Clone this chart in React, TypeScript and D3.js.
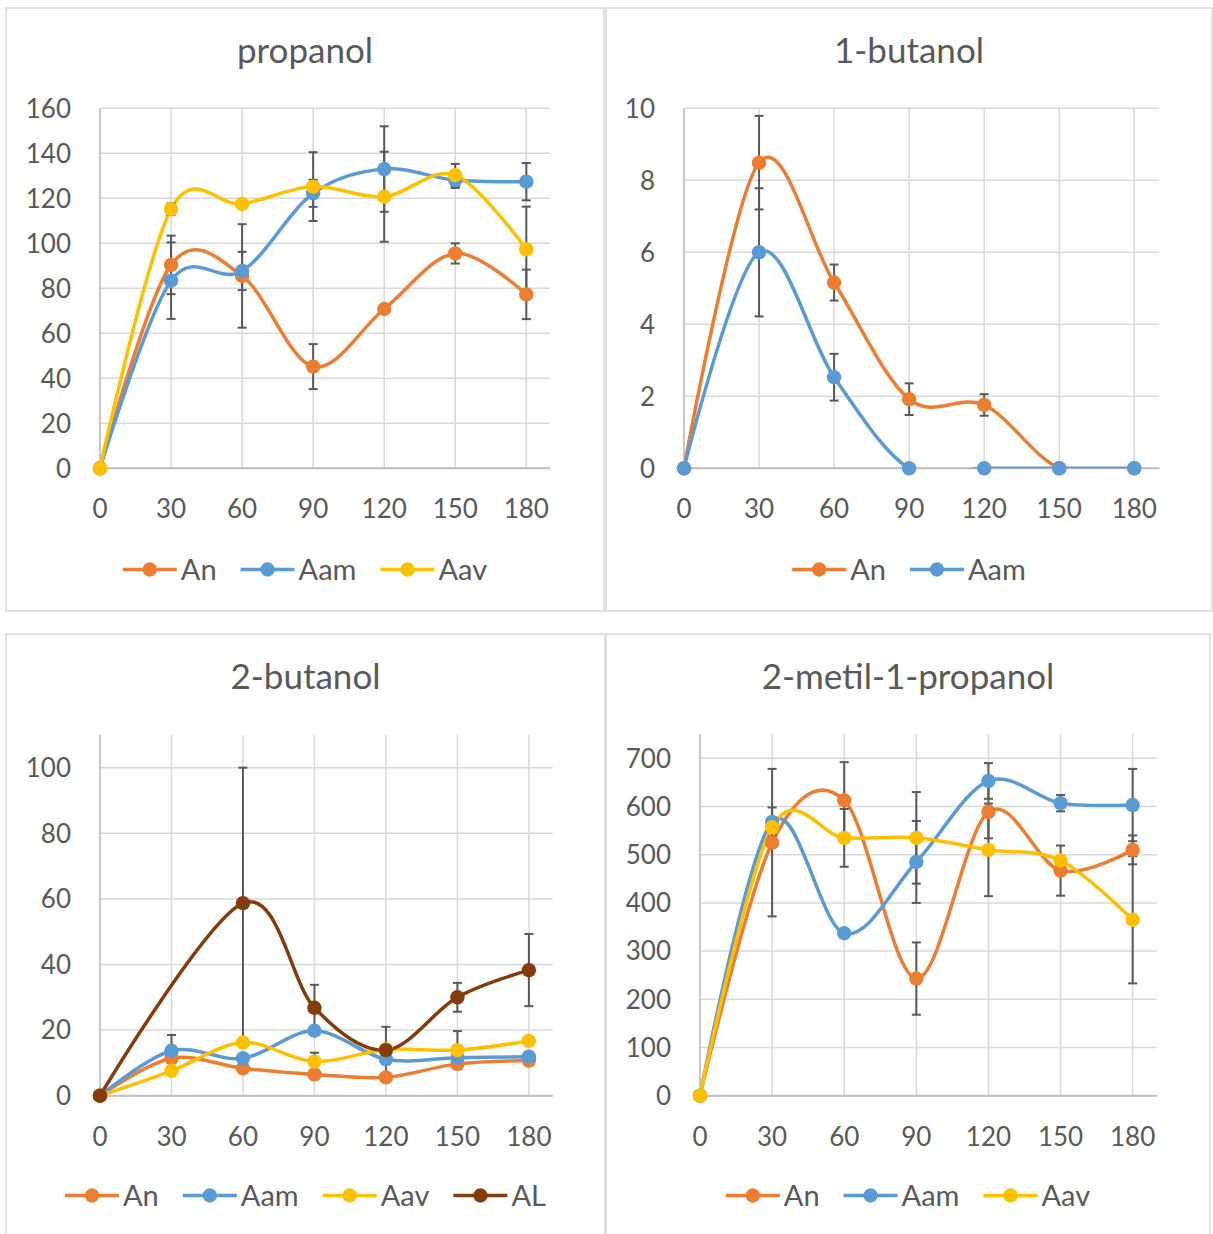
import React from "react";
import * as d3 from "d3";

const TIMES = [0, 30, 60, 90, 120, 150, 180];

// propanol
const propAn = [0, 90.4, 85.5, 45.2, 70.8, 95.5, 77.3];
const propAnErr = [0, 13, 23, 10, 0, 4.5, 11];
const propAam = [0, 83.4, 87.7, 122.2, 133, 128.1, 127.4];
const propAamErr = [0, 17, 8.5, 6, 19, 3.5, 8.3];
const propAav = [0, 115.2, 117.5, 125.2, 120.7, 130.3, 97.3];
const propAavErr = [0, 2.5, 0, 15.3, 20, 5, 19];

// 1-butanol
const butAn = [0, 8.49, 5.16, 1.92, 1.76, 0, 0];
const butAnErr = [0, 1.3, 0.5, 0.44, 0.3, 0, 0];
const butAam = [0, 6.0, 2.53, 0, 0, 0, 0];
const butAamErr = [0, 1.78, 0.65, 0, 0, 0, 0];

// 2-butanol
const b2An = [0, 11.4, 8.35, 6.5, 5.6, 9.7, 10.7];
const b2AnErr = [0, 0, 0, 0, 0, 0, 0];
const b2Aam = [0, 13.7, 11.4, 19.8, 11.1, 11.6, 11.9];
const b2AamErr = [0, 4.8, 0, 0, 0, 0, 0];
const b2Aav = [0, 7.6, 16.2, 10.4, 14.1, 13.9, 16.7];
const b2AavErr = [0, 1.4, 0, 2.7, 0, 5.8, 0];
const b2AL: (number | null)[] = [0, null, 58.7, 26.8, 13.9, 30.0, 38.3];
const b2ALErr = [0, 0, 41.3, 7, 7.1, 4.4, 11];

// 2-metil-1-propanol
const mAn = [0, 525, 613, 243, 589, 467, 510];
const mAnErr = [0, 153, 79, 75, 55, 52, 30];
const mAam = [0, 568, 337, 485, 653, 607, 603];
const mAamErr = [0, 30, 0, 85, 37, 17, 75];
const mAav = [0, 557, 535, 535, 510, 488, 365];
const mAavErr = [0, 0, 60, 95, 96, 0, 132];

const propTicks = [0, 20, 40, 60, 80, 100, 120, 140, 160];
const butTicks = [0, 2, 4, 6, 8, 10];
const b2Ticks = [0, 20, 40, 60, 80, 100];
const mTicks = [0, 100, 200, 300, 400, 500, 600, 700];

const COLORS: Record<string, string> = {
  An: "#ED7D31",
  Aam: "#5B9BD5",
  Aav: "#FFC000",
  AL: "#843C0C",
};

const FONT = "Lato, 'Open Sans', sans-serif";
const TEXT = "#595959";
const TICK_FS = 26;
const LEG_FS = 29;
const TITLE_FS = 35;

type Series = { name: string; values: (number | null)[]; err: number[] };

type PanelProps = {
  id: string;
  box: [number, number, number, number];
  title: string;
  titleY: number;
  plot: { left: number; right: number; top: number; bottom: number };
  yMax: number;
  yTicks: number[];
  series: Series[];
  legendY: number;
};

function measure(text: string, size: number) {
  if (typeof document === "undefined") return text.length * size * 0.55;
  const c = document.createElement("canvas");
  const ctx = c.getContext("2d")!;
  ctx.font = `${size}px Lato`;
  return ctx.measureText(text).width;
}

function Panel(p: PanelProps) {
  const [bx, by, bw, bh] = p.box;
  const x = d3.scaleLinear().domain([0, 190]).range([p.plot.left, p.plot.right]);
  const y = d3.scaleLinear().domain([0, p.yMax]).range([p.plot.bottom, p.plot.top]);
  const line = d3
    .line<{ t: number; v: number }>()
    .x((d) => x(d.t))
    .y((d) => y(d.v))
    .curve(d3.curveCardinal.tension(0));
  const cx = bx + bw / 2;

  // legend layout
  const seg = 54;
  const items = p.series.map((s) => ({ name: s.name, w: seg + 4 + measure(s.name, LEG_FS) }));
  const gap = 24;
  const total = d3.sum(items, (d) => d.w) + gap * (items.length - 1);
  let acc = cx - total / 2;
  const legend = items.map((it) => {
    const o = { ...it, x0: acc };
    acc += it.w + gap;
    return o;
  });

  return (
    <g>
      <rect x={bx} y={by} width={bw} height={bh} fill="#fff" stroke="#d9d9d9" strokeWidth={1.5} />
      <text x={cx} y={p.titleY} textAnchor="middle" fontSize={TITLE_FS} fontFamily={FONT} fill={TEXT}>
        {p.title}
      </text>
      <clipPath id={`clip-${p.id}`}>
        <rect x={p.plot.left} y={p.plot.top - 10} width={p.plot.right - p.plot.left} height={p.plot.bottom - p.plot.top + 10} />
      </clipPath>
      {/* horizontal gridlines */}
      {p.yTicks.map((t) => (
        <line key={"h" + t} x1={p.plot.left} x2={p.plot.right} y1={y(t)} y2={y(t)} stroke="#d9d9d9" strokeWidth={1.5} />
      ))}
      {/* vertical gridlines */}
      {TIMES.map((t) => (
        <line key={"v" + t} x1={x(t)} x2={x(t)} y1={p.plot.top} y2={p.plot.bottom} stroke="#d9d9d9" strokeWidth={1.5} />
      ))}
      <line x1={p.plot.left} x2={p.plot.left} y1={p.plot.top} y2={p.plot.bottom} stroke="#bfbfbf" strokeWidth={1.5} />
      <line x1={p.plot.left} x2={p.plot.right} y1={p.plot.bottom} y2={p.plot.bottom} stroke="#bfbfbf" strokeWidth={2} />
      {/* tick labels */}
      {p.yTicks.map((t) => (
        <text key={"yl" + t} x={p.plot.left - 29} y={y(t) + 9.3} textAnchor="end" fontSize={TICK_FS} fontFamily={FONT} fill={TEXT}>
          {t}
        </text>
      ))}
      {TIMES.map((t) => (
        <text key={"xl" + t} x={x(t)} y={p.plot.bottom + 50} textAnchor="middle" fontSize={TICK_FS} fontFamily={FONT} fill={TEXT}>
          {t}
        </text>
      ))}
      {/* lines */}
      <g clipPath={`url(#clip-${p.id})`}>
        {p.series.map((s) => {
          const pts = TIMES.map((t, i) => ({ t, v: s.values[i] as number })).filter((d) => d.v !== null);
          return <path key={s.name} d={line(pts) || ""} fill="none" stroke={COLORS[s.name]} strokeWidth={3.5} strokeLinecap="round" />;
        })}
      </g>
      {/* error bars */}
      {p.series.map((s) =>
        TIMES.map((t, i) => {
          const v = s.values[i];
          const e = s.err[i];
          if (v === null || !e) return null;
          const y1 = y(v + e);
          const y2 = y(Math.max(0, v - e));
          return (
            <g key={s.name + "e" + t} stroke="#595959" strokeWidth={2}>
              <line x1={x(t)} x2={x(t)} y1={y1} y2={y2} />
              <line x1={x(t) - 4.5} x2={x(t) + 4.5} y1={y1} y2={y1} />
              <line x1={x(t) - 4.5} x2={x(t) + 4.5} y1={y2} y2={y2} />
            </g>
          );
        })
      )}
      {/* markers */}
      {p.series.map((s) =>
        TIMES.map((t, i) => {
          const v = s.values[i];
          if (v === null) return null;
          return <circle key={s.name + "m" + t} cx={x(t)} cy={y(v)} r={7.2} fill={COLORS[s.name]} />;
        })
      )}
      {/* legend */}
      {legend.map((it) => (
        <g key={"lg" + it.name}>
          <line x1={it.x0} x2={it.x0 + seg} y1={p.legendY} y2={p.legendY} stroke={COLORS[it.name]} strokeWidth={3.5} />
          <circle cx={it.x0 + seg / 2} cy={p.legendY} r={7.2} fill={COLORS[it.name]} />
          <text x={it.x0 + seg + 4} y={p.legendY + 10} fontSize={LEG_FS} fontFamily={FONT} fill={TEXT}>
            {it.name}
          </text>
        </g>
      ))}
    </g>
  );
}

export default function App() {
  return (
    <svg width={1213} height={1234} style={{ position: "absolute", left: 0, top: 0, background: "#fff" }}>
      <rect x={0} y={0} width={1213} height={1234} fill="#fff" />
      <Panel
        id="p1"
        box={[6, 8, 598, 603]}
        title="propanol"
        titleY={63}
        plot={{ left: 100, right: 550, top: 108.3, bottom: 468.3 }}
        yMax={160}
        yTicks={propTicks}
        legendY={569.5}
        series={[
          { name: "An", values: propAn, err: propAnErr },
          { name: "Aam", values: propAam, err: propAamErr },
          { name: "Aav", values: propAav, err: propAavErr },
        ]}
      />
      <Panel
        id="p2"
        box={[606, 8, 606, 603]}
        title="1-butanol"
        titleY={63}
        plot={{ left: 684, right: 1159.3, top: 108.3, bottom: 468.3 }}
        yMax={10}
        yTicks={butTicks}
        legendY={569.5}
        series={[
          { name: "An", values: butAn, err: butAnErr },
          { name: "Aam", values: butAam, err: butAamErr },
        ]}
      />
      <Panel
        id="p3"
        box={[6, 634, 599, 620]}
        title="2-butanol"
        titleY={689}
        plot={{ left: 100, right: 552.7, top: 734.9, bottom: 1095.7 }}
        yMax={110}
        yTicks={b2Ticks}
        legendY={1195.5}
        series={[
          { name: "An", values: b2An, err: b2AnErr },
          { name: "Aam", values: b2Aam, err: b2AamErr },
          { name: "Aav", values: b2Aav, err: b2AavErr },
          { name: "AL", values: b2AL, err: b2ALErr },
        ]}
      />
      <Panel
        id="p4"
        box={[606, 634, 604, 620]}
        title="2-metil-1-propanol"
        titleY={689}
        plot={{ left: 700, right: 1156.7, top: 734.2, bottom: 1095.7 }}
        yMax={750}
        yTicks={mTicks}
        legendY={1195.5}
        series={[
          { name: "An", values: mAn, err: mAnErr },
          { name: "Aam", values: mAam, err: mAamErr },
          { name: "Aav", values: mAav, err: mAavErr },
        ]}
      />
    </svg>
  );
}
